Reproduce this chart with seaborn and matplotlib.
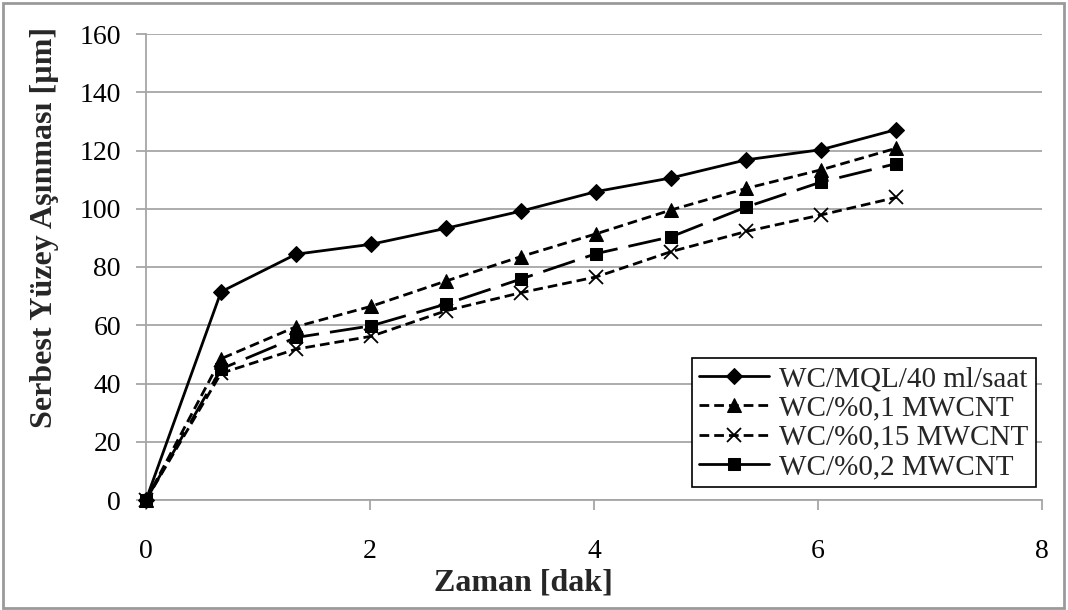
import numpy as np
import pandas as pd
import matplotlib
matplotlib.use("Agg")
import matplotlib.pyplot as plt
import seaborn as sns
from matplotlib.patches import Rectangle

# zaman [dak]
zaman = [0, 0.67, 1.34, 2.01, 2.68, 3.35, 4.02, 4.69, 5.36, 6.03, 6.70]

# serbest yuzey asinmasi [um]
mql_40 = [0, 71.5, 84.4, 87.8, 93.3, 99.2, 105.9, 110.6, 116.8, 120.3, 127.2]
mwcnt_01 = [0, 48.5, 59.5, 66.5, 75.2, 83.6, 91.4, 99.6, 107.0, 113.4, 120.8]
mwcnt_015 = [0, 43.5, 51.8, 56.2, 65.0, 71.2, 76.6, 85.3, 92.2, 97.9, 103.9]
mwcnt_02 = [0, 45.0, 55.8, 59.8, 67.3, 75.9, 84.6, 90.4, 100.6, 109.2, 115.5]

labels = ["WC/MQL/40 ml/saat", "WC/%0,1 MWCNT", "WC/%0,15 MWCNT", "WC/%0,2 MWCNT"]

sns.set_theme(style="white")
plt.rcParams['font.family'] = ['Liberation Serif', 'DejaVu Serif']

fig = plt.figure(figsize=(10.68, 6.10), dpi=100)
ax = fig.add_axes([146/1068, 110/610, 896/1068, 466/610])

grid_c = "#a6a6a6"

styles = [
    dict(marker="D", markersize=8.5, linestyle="-"),
    dict(marker="^", markersize=10, linestyle=(0, (3.5, 1.8))),
    dict(marker="x", markersize=9.5, markeredgewidth=1.3, linestyle=(0, (3.5, 1.8))),
    dict(marker="s", markersize=9, linestyle=(0, (12, 4))),
]
series = [mql_40, mwcnt_01, mwcnt_015, mwcnt_02]

for vals, lab, st in zip(series, labels, styles):
    df = pd.DataFrame({"zaman": zaman, "asinma": vals})
    sns.lineplot(data=df, x="zaman", y="asinma", ax=ax, color="black",
                 linewidth=2.0, label=lab, markeredgecolor="black",
                 clip_on=False, zorder=3, **st)

ax.set_xlim(0, 8)
ax.set_ylim(0, 160)
ax.set_xticks(np.arange(0, 9, 2))
ax.set_yticks(np.arange(0, 161, 20))
ax.yaxis.grid(True, color=grid_c, linewidth=1.3)
ax.xaxis.grid(False)
for s in ["top", "right"]:
    ax.spines[s].set_visible(False)
for s in ["left", "bottom"]:
    ax.spines[s].set_color(grid_c)
    ax.spines[s].set_linewidth(1.3)
ax.tick_params(axis="both", colors=grid_c, labelcolor="black", labelsize=20,
               length=7, width=1.3, direction="out")
ax.tick_params(axis="y", pad=11, left=True)
ax.tick_params(axis="x", pad=21, bottom=True)

ax.set_xlabel("Zaman [dak]", fontsize=23, fontweight="bold")
ax.set_ylabel("Serbest Yüzey Aşınması [µm]", fontsize=23, fontweight="bold")
ax.xaxis.set_label_coords(0.4215, -0.178)
ax.xaxis.label.set_va("center")
ax.yaxis.set_label_coords(-0.113, 0.585)
ax.yaxis.label.set_va("center")

leg = ax.legend(loc="lower right", bbox_to_anchor=(0.993, 0.027), fontsize=21,
                frameon=True, fancybox=False, edgecolor="black", framealpha=1,
                handlelength=2.4, handletextpad=0.35, labelspacing=0.1,
                borderpad=0.25, borderaxespad=0)
leg.get_frame().set_linewidth(1.2)
# long-dash series looks solid in the short legend handle
leg.get_lines()[3].set_linestyle("-")

fig.patches.append(Rectangle((0.003, 0.004), 0.993, 0.991, transform=fig.transFigure,
                             fill=False, edgecolor="#9a9a9a", linewidth=2))

fig.savefig("out.png", dpi=100)
